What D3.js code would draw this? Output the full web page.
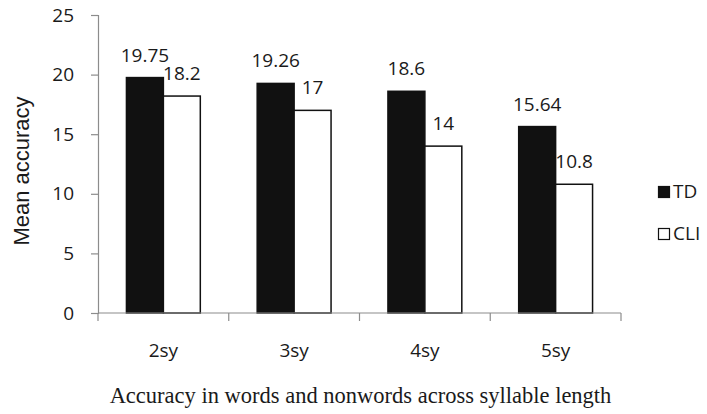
<!DOCTYPE html>
<html>
<head>
<meta charset="utf-8">
<script src="https://cdn.jsdelivr.net/npm/d3@7"></script>
<style>
  html, body { margin: 0; padding: 0; background: #fff; }
  svg { display: block; }
</style>
</head>
<body>
<svg id="chart" width="707" height="414"></svg>
<script>
// Mean accuracy per syllable length, for each group
const categories = ["2sy", "3sy", "4sy", "5sy"];
const seriesNames = ["TD", "CLI"];
const tdValues = [19.75, 19.26, 18.6, 15.64];
const cliValues = [18.2, 17, 14, 10.8];
const yTicks = [0, 5, 10, 15, 20, 25];
const valueLabels = {
  TD: ["19.75", "19.26", "18.6", "15.64"],
  CLI: ["18.2", "17", "14", "10.8"]
};

const rows = categories.map((c, i) => ({ cat: c, TD: tdValues[i], CLI: cliValues[i] }));

const svg = d3.select("#chart");
const plot = { left: 98, right: 621, top: 15, bottom: 313 };
const sans = "'Open Sans', sans-serif";
const ink = "#1a1a1a";
const axisGrey = "#8c8c8c";

const x0 = d3.scaleBand().domain(categories).range([plot.left, plot.right]).padding(0);
const x1 = d3.scaleBand().domain(seriesNames).range([0, x0.bandwidth()])
  .paddingInner(0).paddingOuter(0.77);
const y = d3.scaleLinear().domain([0, 25]).range([plot.bottom, plot.top]);

const fills = { TD: "#111", CLI: "#fff" };

// Bars
const groups = svg.append("g").selectAll("g").data(rows).join("g")
  .attr("transform", d => `translate(${x0(d.cat)},0)`);

groups.selectAll("rect").data(d => seriesNames.map(s => ({ s, v: d[s] }))).join("rect")
  .attr("x", d => x1(d.s))
  .attr("y", d => y(d.v))
  .attr("width", x1.bandwidth())
  .attr("height", d => y(0) - y(d.v))
  .attr("fill", d => fills[d.s])
  .attr("stroke", "#111")
  .attr("stroke-width", 1.5);

// Value labels above each bar
groups.selectAll("text.val").data((d, i) => seriesNames.map(s => ({ s, v: d[s], t: valueLabels[s][i] })))
  .join("text").attr("class", "val")
  .attr("x", d => x1(d.s) + x1.bandwidth() / 2)
  .attr("y", d => y(d.v) - 16)
  .attr("text-anchor", "middle")
  .attr("font-family", sans).attr("font-size", 19).attr("fill", ink)
  .text(d => d.t);

// Y axis
const yAxis = svg.append("g").attr("transform", `translate(${plot.left},0)`)
  .call(d3.axisLeft(y).tickValues(yTicks).tickSize(7).tickPadding(17).tickFormat(d3.format("d")));
yAxis.select(".domain").attr("stroke", axisGrey).attr("stroke-width", 1.2);
yAxis.selectAll(".tick line").attr("stroke", axisGrey).attr("stroke-width", 1.2);
yAxis.selectAll(".tick text").attr("font-family", sans).attr("font-size", 19).attr("fill", ink);

// X axis: boundaries between categories carry the tick marks
const xAxis = svg.append("g").attr("transform", `translate(0,${plot.bottom})`);
xAxis.append("line").attr("x1", plot.left).attr("x2", plot.right)
  .attr("stroke", axisGrey).attr("stroke-width", 1.2);
const bounds = categories.map(c => x0(c)).concat([x0(categories[categories.length - 1]) + x0.bandwidth()]);
xAxis.selectAll("line.tk").data(bounds).join("line").attr("class", "tk")
  .attr("x1", d => d).attr("x2", d => d).attr("y1", 0).attr("y2", 8)
  .attr("stroke", axisGrey).attr("stroke-width", 1.2);
xAxis.selectAll("text").data(categories).join("text")
  .attr("x", d => x0(d) + x0.bandwidth() / 2)
  .attr("y", 44)
  .attr("text-anchor", "middle")
  .attr("font-family", sans).attr("font-size", 19).attr("fill", ink)
  .text(d => d);

// Axis titles
svg.append("text")
  .attr("transform", `translate(29,171) rotate(-90)`)
  .attr("text-anchor", "middle")
  .attr("font-family", "'Liberation Sans', Arial, sans-serif").attr("font-size", 22)
  .attr("fill", ink)
  .text("Mean accuracy");

svg.append("text")
  .attr("x", (plot.left + plot.right) / 2 + 1)
  .attr("y", 403)
  .attr("text-anchor", "middle")
  .attr("font-family", "'Liberation Serif', 'Times New Roman', serif").attr("font-size", 22.5)
  .attr("fill", ink)
  .text("Accuracy in words and nonwords across syllable length");

// Legend
const legend = svg.append("g").selectAll("g").data(seriesNames).join("g")
  .attr("transform", (d, i) => `translate(658,${186 + i * 42})`);
legend.append("rect")
  .attr("x", 0.5).attr("y", 0.5).attr("width", 11).attr("height", 11)
  .attr("fill", d => fills[d]).attr("stroke", "#111").attr("stroke-width", 1.2);
legend.append("text")
  .attr("x", 15).attr("y", 12)
  .attr("font-family", sans).attr("font-size", 19).attr("fill", ink)
  .text(d => d);
</script>
</body>
</html>
